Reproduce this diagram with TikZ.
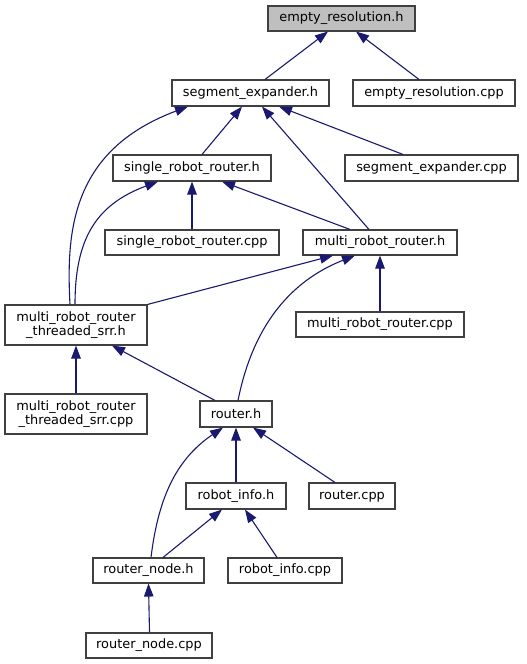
\documentclass[tikz,border=0pt]{standalone}
\usepackage{fontspec}
\setmainfont{DejaVu Sans}
\usetikzlibrary{arrows.meta}
\definecolor{navy}{HTML}{191970}
\definecolor{boxline}{HTML}{404040}
\definecolor{topfill}{HTML}{BFBFBF}
\begin{document}
\begin{tikzpicture}[x=1pt,y=-1pt,
  box/.style={draw=boxline, line width=1.1pt, fill=white, inner sep=0pt, align=center,
    font=\fontsize{12.9pt}{14pt}\selectfont},
  edge/.style={draw=navy, line width=1.1pt, -{Triangle[length=13pt,width=9.5pt]}}]
\useasboundingbox (0,0) rectangle (527,664);

\node[box, fill=topfill, minimum width=147pt, minimum height=25pt] (erh) at (341.5,18.5) {empty\_resolution.h};
\node[box, minimum width=157pt, minimum height=26pt] (seh) at (250.5,93) {segment\_expander.h};
\node[box, minimum width=162pt, minimum height=26pt] (ercpp) at (434,93) {empty\_resolution.cpp};
\node[box, minimum width=158pt, minimum height=26pt] (srrh) at (192,168) {single\_robot\_router.h};
\node[box, minimum width=173pt, minimum height=26pt] (secpp) at (431.5,168) {segment\_expander.cpp};
\node[box, minimum width=174pt, minimum height=25pt] (srrcpp) at (192,242.5) {single\_robot\_router.cpp};
\node[box, minimum width=154pt, minimum height=25pt] (mrrh) at (380,242.5) {multi\_robot\_router.h};
\node[box, minimum width=142pt, minimum height=40pt] (mrrth) at (76,325) {multi\_robot\_router\\\_threaded\_srr.h};
\node[box, minimum width=168pt, minimum height=25pt] (mrrcpp) at (380,324.5) {multi\_robot\_router.cpp};
\node[box, minimum width=142pt, minimum height=40pt] (mrrtcpp) at (76,414) {multi\_robot\_router\\\_threaded\_srr.cpp};
\node[box, minimum width=72pt, minimum height=26pt] (rh) at (236,414) {router.h};
\node[box, minimum width=100pt, minimum height=26pt] (rih) at (236,496) {robot\_info.h};
\node[box, minimum width=86pt, minimum height=26pt] (rcpp) at (352,496) {router.cpp};
\node[box, minimum width=111pt, minimum height=25pt] (rnh) at (148.5,570.5) {router\_node.h};
\node[box, minimum width=114pt, minimum height=25pt] (ricpp) at (285,570.5) {robot\_info.cpp};
\node[box, minimum width=126pt, minimum height=25pt] (rncpp) at (149,645.5) {router\_node.cpp};

% edges (child -> parent)
\draw[edge] ([xshift=14.5pt]seh.north) -- ([xshift=-13.5pt]erh.south);
\draw[edge] ([xshift=-15pt]ercpp.north) -- ([xshift=14.5pt]erh.south);
\draw[edge] ([xshift=10pt]srrh.north) -- ([xshift=-8.5pt]seh.south);
\draw[edge] ([xshift=-11pt]mrrh.north) -- ([xshift=11.5pt]seh.south);
\draw[edge] ([xshift=-28.5pt]secpp.north) -- ([xshift=28.5pt]seh.south);
\draw[edge] ([xshift=-6pt]mrrth.north) .. controls (66,230) and (72,150) .. ([xshift=-62.5pt]seh.south);
\draw[edge] ([xshift=-1pt]mrrth.north) .. controls (75,240) and (95,205) .. ([xshift=-34pt]srrh.south);
\draw[edge] (srrcpp.north) -- (srrh.south);
\draw[edge] ([xshift=-30pt]mrrh.north) -- ([xshift=30pt]srrh.south);
\draw[edge] (mrrth.north east) -- ([xshift=-47pt]mrrh.south);
\draw[edge] ([xshift=2pt]rh.north) .. controls (250,340) and (280,285) .. ([xshift=-25pt]mrrh.south);
\draw[edge] (mrrcpp.north) -- (mrrh.south);
\draw[edge] (mrrtcpp.north) -- (mrrth.south);
\draw[edge] ([xshift=-21pt]rh.north) -- ([xshift=36pt]mrrth.south);
\draw[edge] (rih.north) -- (rh.south);
\draw[edge] ([xshift=2.5pt]rnh.north) .. controls (158,500) and (175,460) .. ([xshift=-13pt]rh.south);
\draw[edge] ([xshift=-17pt]rcpp.north) -- ([xshift=17pt]rh.south);
\draw[edge] ([xshift=14.5pt]rnh.north) -- ([xshift=-14pt]rih.south);
\draw[edge] ([xshift=-8pt]ricpp.north) -- ([xshift=9pt]rih.south);
\draw[edge] ([xshift=0.5pt]rncpp.north) -- (rnh.south);
\end{tikzpicture}
\end{document}
